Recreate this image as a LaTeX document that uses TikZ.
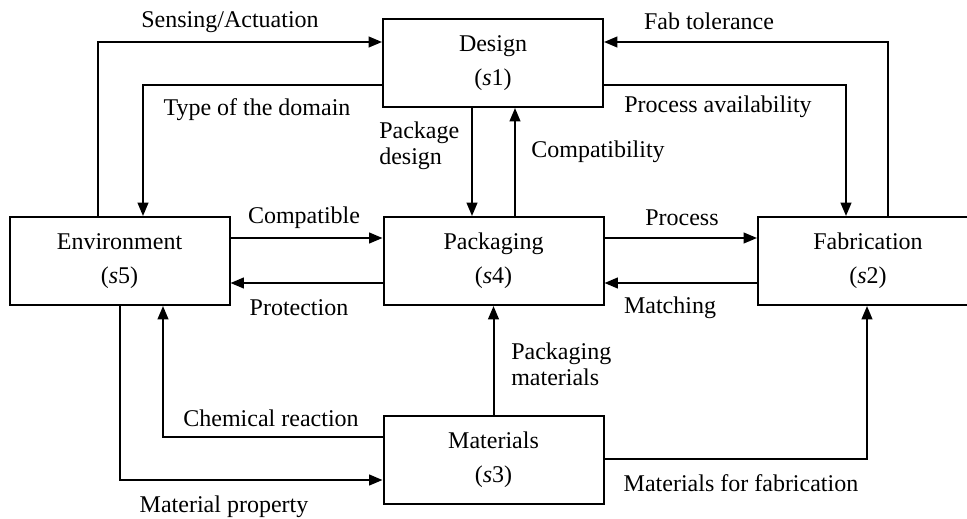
\documentclass[tikz,border=0pt]{standalone}
\usepackage{fontspec}
\setmainfont{Liberation Serif}
\usetikzlibrary{arrows.meta}
\begin{document}
\begin{tikzpicture}[x=0.75pt,y=-0.75pt,
  every node/.style={font=\fontsize{18}{19.5}\selectfont},
  block/.style={draw,line width=1.5pt,minimum width=165pt,minimum height=66pt,
    inner sep=0pt,align=center},
  flow/.style={line width=1.5pt,-{Triangle[length=10pt,width=8pt]}},
  lbl/.style={inner sep=0pt},
  lbll/.style={inner sep=0pt,anchor=west,align=left}]
\useasboundingbox (0,0) rectangle (967,518);
\clip (0,0) rectangle (967,518);

% blocks
\node[block] (design) at (493,63)    {Design\\[6pt](\textit{s}1)};
\node[block] (pack)   at (493.5,261) {Packaging\\[6pt](\textit{s}4)};
\node[block] (mat)    at (493.5,459.5) {Materials\\[6pt](\textit{s}3)};
\node[block] (env)    at (119.5,261) {Environment\\[6pt](\textit{s}5)};
\node[block] (fab)    at (868,261)   {Fabrication\\[6pt](\textit{s}2)};

% bend points and lanes
\coordinate (c1) at (98,42);
\coordinate (c2) at (143,85);
\coordinate (c3) at (472,0);
\coordinate (c4) at (515,0);
\coordinate (c5) at (888,42);
\coordinate (c6) at (846,85);
\coordinate (c7) at (0,238);
\coordinate (c8) at (0,283);
\coordinate (c11) at (493.5,0);
\coordinate (c12) at (163,437);
\coordinate (c13) at (120,480);
\coordinate (c14) at (867,459);

% connectors
\draw[flow] (env.north -| c1) |- (design.west |- c1);
\draw[flow] (design.west |- c2) -| (env.north -| c2);
\draw[flow] (design.south -| c3) -- (pack.north -| c3);
\draw[flow] (pack.north -| c4) -- (design.south -| c4);
\draw[flow] (fab.north -| c5) |- (design.east |- c5);
\draw[flow] (design.east |- c6) -| (fab.north -| c6);
\draw[flow] (env.east |- c7) -- (pack.west |- c7);
\draw[flow] (pack.west |- c8) -- (env.east |- c8);
\draw[flow] (pack.east |- c7) -- (fab.west |- c7);
\draw[flow] (fab.west |- c8) -- (pack.east |- c8);
\draw[flow] (mat.north -| c11) -- (pack.south -| c11);
\draw[flow] (mat.west |- c12) -| (env.south -| c12);
\draw[flow] (env.south -| c13) |- (mat.west |- c13);
\draw[flow] (mat.east |- c14) -| (fab.south -| c14);

% labels
\node[lbl] (l1) at (230,22) {Sensing/Actuation};
\node[lbl] (l2) at (257,110) {Type of the domain};
\node[lbll] (l3) at (379,146) {Package\\design};
\node[lbl] (l4) at (598,152) {Compatibility};
\node[lbl] (l5) at (709,21) {Fab tolerance};
\node[lbl] (l6) at (718,107) {Process availability};
\node[lbl] (l7) at (304,218) {Compatible};
\node[lbl] (l8) at (299,308) {Protection};
\node[lbl] (l9) at (682,218) {Process};
\node[lbl] (l10) at (670,308) {Matching};
\node[lbll] (l11) at (511,364) {Packaging\\materials};
\node[lbl] (l12) at (271,418) {Chemical reaction};
\node[lbl] (l13) at (224,507) {Material property};
\node[lbl] (l14) at (741,483) {Materials for fabrication};
\end{tikzpicture}
\end{document}
